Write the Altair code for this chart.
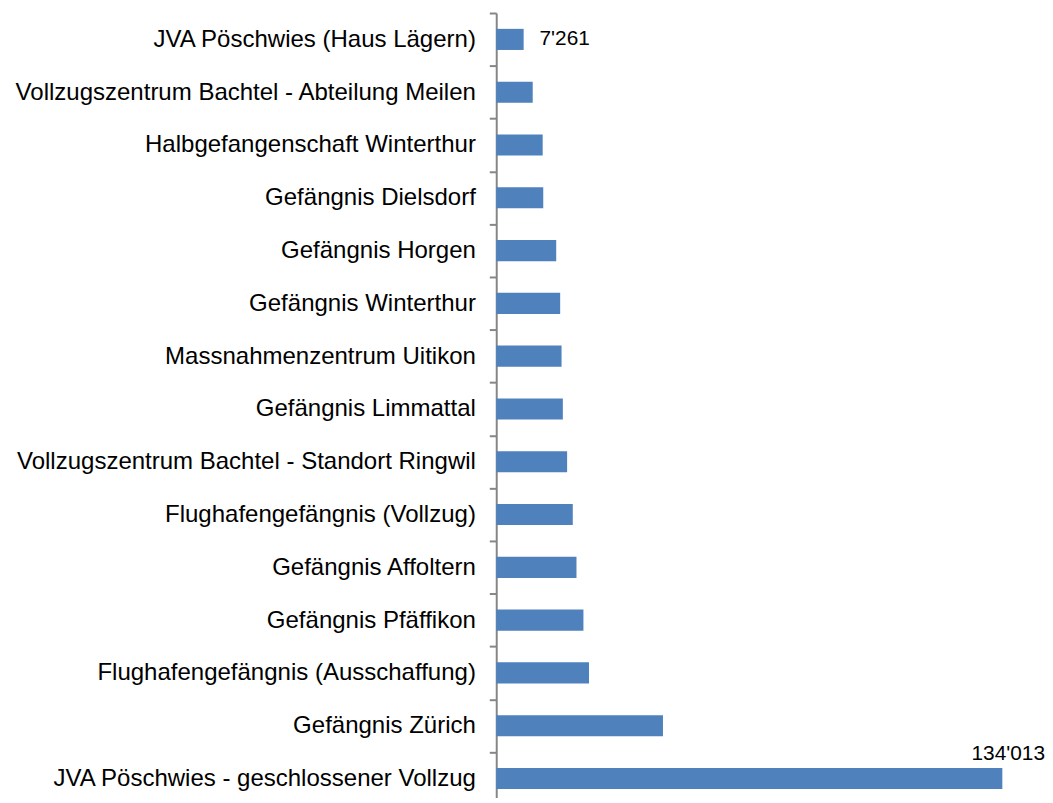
import altair as alt
import pandas as pd

categories = [
    "JVA Pöschwies (Haus Lägern)",
    "Vollzugszentrum Bachtel - Abteilung Meilen",
    "Halbgefangenschaft Winterthur",
    "Gefängnis Dielsdorf",
    "Gefängnis Horgen",
    "Gefängnis Winterthur",
    "Massnahmenzentrum Uitikon",
    "Gefängnis Limmattal",
    "Vollzugszentrum Bachtel - Standort Ringwil",
    "Flughafengefängnis (Vollzug)",
    "Gefängnis Affoltern",
    "Gefängnis Pfäffikon",
    "Flughafengefängnis (Ausschaffung)",
    "Gefängnis Zürich",
    "JVA Pöschwies - geschlossener Vollzug",
]
values = [7261, 9660, 12300, 12450, 15880, 16930, 17300, 17640, 18770,
          20270, 21250, 23090, 24570, 44150, 134013]
value_labels = ["7'261", "", "", "", "", "", "", "", "", "", "", "", "", "", "134'013"]

df = pd.DataFrame({"cat": categories, "val": values, "lab": value_labels})

FONT = "Liberation Sans"

x = alt.X("val:Q", axis=None, scale=alt.Scale(domain=[0, 134013], nice=False, zero=True))
y = alt.Y(
    "cat:N",
    sort=None,
    title=None,
    scale=alt.Scale(range=[0, 798], paddingInner=0, paddingOuter=0),
    axis=alt.Axis(
        tickBand="extent",
        domainColor="#868686",
        domainWidth=2,
        tickColor="#868686",
        tickWidth=2,
        tickSize=7,
        labelFont=FONT,
        labelFontSize=24.2,
        labelColor="#000000",
        labelPadding=14,
        labelLimit=700,
    ),
)

base = alt.Chart(df)

bars = base.mark_bar(color="#4F81BD", height=alt.RelativeBandSize(0.4)).encode(x=x, y=y)

first_label = base.transform_filter(alt.datum.cat == categories[0]).mark_text(
    align="left", baseline="middle", dx=16, font=FONT, fontSize=21, color="#000000"
).encode(x=x, y=y, text="lab:N")

last_label = base.transform_filter(alt.datum.cat == categories[-1]).mark_text(
    align="right", baseline="alphabetic", dx=43, dy=-19, font=FONT, fontSize=21, color="#000000"
).encode(x=x, y=y, text="lab:N")

chart = (
    alt.layer(bars, first_label, last_label)
    .properties(
        width=510,
        height=788,
        autosize=alt.AutoSizeParams(type="none"),
        padding={"left": 492, "top": 2, "right": 43, "bottom": 0},
        background="white",
    )
    .configure_view(stroke=None, strokeWidth=0)
)

chart.save("out.html", embed_options={"renderer": "svg", "actions": False})
